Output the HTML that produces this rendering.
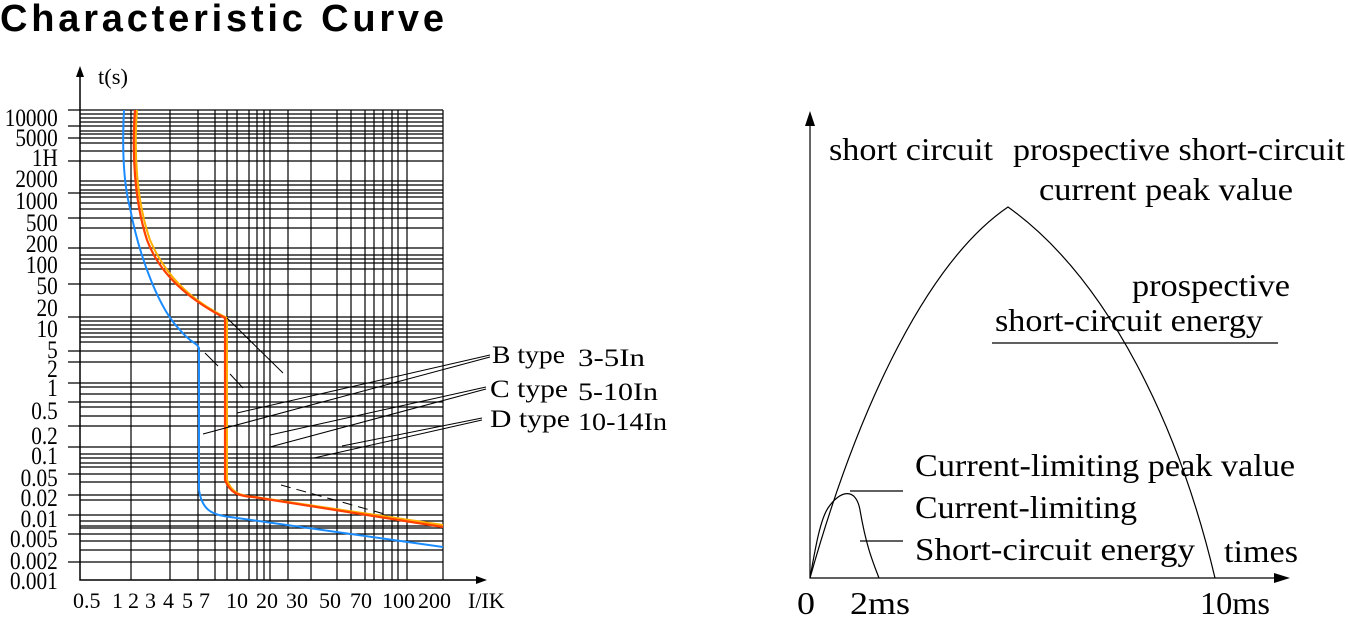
<!DOCTYPE html>
<html><head><meta charset="utf-8"><style>
html,body{margin:0;padding:0;background:#fff;width:1348px;height:617px;overflow:hidden}
svg{display:block}
.s{font-family:"Liberation Serif",serif;fill:#000}
</style></head><body>
<svg width="1348" height="617" viewBox="0 0 1348 617" xmlns="http://www.w3.org/2000/svg">
<text x="0" y="31" font-family="Liberation Sans, sans-serif" font-weight="bold" font-size="38" textLength="444" lengthAdjust="spacing">Characteristic Curve</text>

<g stroke="#000" stroke-width="1.2" fill="none">
<path d="M131 110V580M170 110V580M198 110V580M215 110V580M227 110V580M237 110V580M249 110V580M257 110V580M264 110V580M270 110V580M288 110V580M311 110V580M337 110V580M351 110V580M365 110V580M374 110V580M383 110V580M392 110V580M398 110V580M407 110V580M443 110V580"/>
<path d="M68 110H443M80 114H443M80 118H443M80 122H443M68 126H443M80 131H443M80 134H443M68 138H443M80 143H443M80 151H443M68 161H443M80 181H443M80 185H443M80 190H443M68 193H443M80 197H443M80 203H443M80 209H443M68 218H443M80 228H443M68 248H443M80 255H443M80 259H443M80 263H443M80 269H443M68 284H443M80 295H443M68 317H443M80 321H443M80 325H443M80 329H443M80 333H443M80 337H443M80 342H443M68 351H443M68 362H443M68 383H443M80 387H443M80 394H443M68 402H443M80 407H443M80 416H443M68 426H443M68 447H443M80 454H443M80 458H443M80 463H443M80 467H443M68 474H443M80 482H443M68 495H443M80 500H443M68 515H443M80 521H443M80 526H443M80 528H443M68 534H443M80 541H443M80 550H443M68 562H443"/>
<path d="M80 75V580H478" stroke-width="1.5"/>
</g>
<path d="M80 66l-4 11h8z M487 580l-11-4v8z" fill="#000"/>

<text class="s" x="98" y="84" font-size="22" textLength="30" lengthAdjust="spacingAndGlyphs">t(s)</text>
<g class="s" font-size="25" text-anchor="end" transform="scale(0.85,1)">
<text x="68" y="126">10000</text><text x="68" y="146">5000</text><text x="68" y="166">1H</text><text x="68" y="187">2000</text><text x="68" y="209">1000</text><text x="68" y="231">500</text><text x="68" y="252">200</text><text x="68" y="273">100</text><text x="68" y="294">50</text><text x="68" y="316">20</text><text x="68" y="337">10</text><text x="68" y="358">5</text><text x="68" y="377">2</text><text x="68" y="396">1</text><text x="68" y="419">0.5</text><text x="68" y="444">0.2</text><text x="68" y="464">0.1</text><text x="68" y="486">0.05</text><text x="68" y="506">0.02</text><text x="68" y="527">0.01</text><text x="68" y="547">0.005</text><text x="68" y="569">0.002</text><text x="68" y="589">0.001</text>
</g>
<g class="s" font-size="22">
<text x="73" y="608">0.5</text><text x="112" y="608">1</text><text x="128" y="608">2</text><text x="145" y="608">3</text><text x="163" y="608">4</text><text x="182" y="608">5</text><text x="199" y="608">7</text><text x="226" y="608">10</text><text x="256" y="608">20</text><text x="286" y="608">30</text><text x="319" y="608">50</text><text x="350" y="608">70</text><text x="382" y="608">100</text><text x="418" y="608">200</text><text x="468" y="608">I/IK</text>
</g>

<path d="M124 110C122 150 124 185 130 208C140 260 160 310 180 330C188 340 195 343 197 345L199 348V490C202 510 212 515 230 517L443 547" stroke="#1a8cff" stroke-width="2" fill="none"/>
<path d="M137 110C134 150 136 200 150 240C165 275 190 300 227 318V480C232 493 240 496 255 497L443 525" stroke="#ffb000" stroke-width="2" fill="none"/>
<path d="M135 110C132 150 134 200 147 240C160 275 190 300 225 318V480C230 493 238 496 253 497L443 527" stroke="#ff4000" stroke-width="2.2" fill="none"/>

<g stroke="#000" stroke-width="1" fill="none">
<path d="M227 318L283 373"/>
<path d="M205 353L218 366M230 374L243 388"/>
<path d="M281 485L388 515" stroke-dasharray="10 6"/>
<path d="M490 355L237 413M490 357L203 434M486 387L270 435M486 389L270 447M482 418L342 446M482 420L314 458"/>
</g>
<g class="s" font-size="25">
<text x="492" y="363" textLength="73" lengthAdjust="spacingAndGlyphs">B type</text><text x="578" y="366" textLength="67" lengthAdjust="spacingAndGlyphs">3-5In</text>
<text x="490" y="397" textLength="78" lengthAdjust="spacingAndGlyphs">C type</text><text x="578" y="400" textLength="80" lengthAdjust="spacingAndGlyphs">5-10In</text>
<text x="490" y="427" textLength="80" lengthAdjust="spacingAndGlyphs">D type</text><text x="578" y="430" textLength="89" lengthAdjust="spacingAndGlyphs">10-14In</text>
</g>

<g stroke="#000" stroke-width="1.2" fill="none">
<path d="M810 122V578H1278"/>
<path d="M810 578C860 400 930 260 1008 207C1110 280 1180 430 1215 578"/>
<path d="M810 578C815 550 820 520 828 508C840 490 856 487 860 510C866 545 872 560 879 578"/>
<path d="M850 491H903M860 541H903M992 343H1278"/>
</g>
<path d="M810 111l-5 15h10z M1290 578l-16-5v10z" fill="#000"/>
<g class="s" font-size="32">
<text x="829" y="160" textLength="164" lengthAdjust="spacingAndGlyphs">short circuit</text>
<text x="1013" y="160" textLength="332" lengthAdjust="spacingAndGlyphs">prospective short-circuit</text>
<text x="1039" y="200" textLength="254" lengthAdjust="spacingAndGlyphs">current peak value</text>
<text x="1132" y="296" textLength="158" lengthAdjust="spacingAndGlyphs">prospective</text>
<text x="995" y="331" textLength="268" lengthAdjust="spacingAndGlyphs">short-circuit energy</text>
<text x="915" y="476" textLength="380" lengthAdjust="spacingAndGlyphs">Current-limiting peak value</text>
<text x="915" y="518" textLength="222" lengthAdjust="spacingAndGlyphs">Current-limiting</text>
<text x="915" y="560" textLength="280" lengthAdjust="spacingAndGlyphs">Short-circuit  energy</text>
<text x="1224" y="562" textLength="74" lengthAdjust="spacingAndGlyphs">times</text>
<text x="797" y="614" textLength="18" lengthAdjust="spacingAndGlyphs">0</text>
<text x="850" y="614" textLength="60" lengthAdjust="spacingAndGlyphs">2ms</text>
<text x="1200" y="614" textLength="70" lengthAdjust="spacingAndGlyphs">10ms</text>
</g>
</svg>
</body></html>
